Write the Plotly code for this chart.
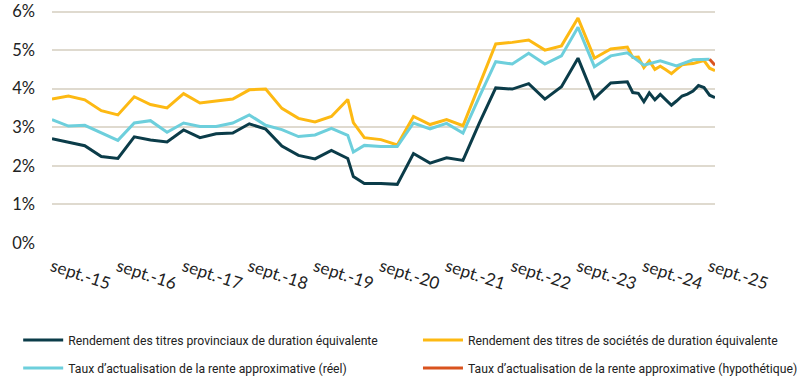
import plotly.graph_objects as go

# ---- data ----
dates_main = [
    "2015-09-01", "2015-12-01", "2016-03-01", "2016-06-01", "2016-09-01", "2016-12-01",
    "2017-03-01", "2017-06-01", "2017-09-01", "2017-12-01", "2018-03-01", "2018-06-01",
    "2018-09-01", "2018-12-01", "2019-03-01", "2019-06-01", "2019-09-01", "2019-12-01",
    "2020-03-01", "2020-04-01", "2020-06-01", "2020-09-01", "2020-12-01", "2021-03-01",
    "2021-06-01", "2021-09-01", "2021-12-01", "2022-03-01", "2022-06-01", "2022-09-01",
    "2022-12-01", "2023-03-01", "2023-06-01", "2023-09-01", "2023-12-01", "2024-03-01",
    "2024-06-01", "2024-07-01", "2024-08-01", "2024-09-01", "2024-10-01", "2024-11-01",
    "2024-12-01", "2025-01-01", "2025-02-01", "2025-03-01", "2025-04-01", "2025-05-01",
    "2025-06-01", "2025-07-01", "2025-08-01", "2025-09-01", "2025-10-01",
]
provincial = [
    2.70, 2.62, 2.52, 2.24, 2.19, 2.75, 2.67, 2.62, 2.93, 2.73, 2.83, 2.85,
    3.09, 2.95, 2.51, 2.27, 2.18, 2.40, 2.19, 1.72, 1.54, 1.54, 1.52, 2.32,
    2.07, 2.21, 2.14, 3.10, 4.02, 3.99, 4.13, 3.73, 4.05, 4.79, 3.75, 4.15,
    4.18, 3.90, 3.88, 3.66, 3.89, 3.71, 3.85, 3.71, 3.57, 3.68, 3.81, 3.86,
    3.94, 4.08, 4.03, 3.83, 3.77,
]
corporate = [
    3.73, 3.81, 3.71, 3.43, 3.32, 3.79, 3.59, 3.50, 3.87, 3.63, 3.68, 3.73,
    3.97, 3.99, 3.49, 3.23, 3.14, 3.28, 3.72, 3.12, 2.73, 2.68, 2.54, 3.28,
    3.07, 3.20, 3.04, 4.08, 5.16, 5.20, 5.26, 5.00, 5.11, 5.83, 4.79, 5.03,
    5.08, 4.81, 4.82, 4.55, 4.72, 4.50, 4.58, 4.49, 4.39, 4.50, 4.62, 4.64,
    4.65, 4.69, 4.73, 4.53, 4.47,
]
dates_annuity = [
    "2015-09-01", "2015-12-01", "2016-03-01", "2016-06-01", "2016-09-01", "2016-12-01",
    "2017-03-01", "2017-06-01", "2017-09-01", "2017-12-01", "2018-03-01", "2018-06-01",
    "2018-09-01", "2018-12-01", "2019-03-01", "2019-06-01", "2019-09-01", "2019-12-01",
    "2020-03-01", "2020-04-01", "2020-06-01", "2020-09-01", "2020-12-01", "2021-03-01",
    "2021-06-01", "2021-09-01", "2021-12-01", "2022-03-01", "2022-06-01", "2022-09-01",
    "2022-12-01", "2023-03-01", "2023-06-01", "2023-09-01", "2023-12-01", "2024-03-01",
    "2024-06-01", "2024-09-01", "2024-12-01", "2025-03-01", "2025-06-01", "2025-09-01",
]
annuity_actual = [
    3.20, 3.03, 3.05, 2.85, 2.66, 3.11, 3.17, 2.87, 3.11, 3.02, 3.02, 3.11,
    3.32, 3.05, 2.94, 2.76, 2.80, 2.97, 2.79, 2.36, 2.53, 2.50, 2.50, 3.11,
    2.96, 3.10, 2.85, 3.78, 4.70, 4.64, 4.92, 4.64, 4.85, 5.59, 4.57, 4.85,
    4.93, 4.61, 4.72, 4.59, 4.75, 4.76,
]
dates_hypo = ["2025-09-01", "2025-10-01"]
annuity_hypo = [4.76, 4.61]

tick_dates = ["2015-09-01", "2016-09-01", "2017-09-01", "2018-09-01", "2019-09-01",
              "2020-09-01", "2021-09-01", "2022-09-01", "2023-09-01", "2024-09-01",
              "2025-09-01"]
tick_labels = ["sept.-15", "sept.-16", "sept.-17", "sept.-18", "sept.-19", "sept.-20",
               "sept.-21", "sept.-22", "sept.-23", "sept.-24", "sept.-25"]
y_ticks = [0, 1, 2, 3, 4, 5, 6]
y_labels = ["0%", "1%", "2%", "3%", "4%", "5%", "6%"]

names = [
    "Rendement des titres provinciaux de duration équivalente",
    "Rendement des titres de sociétés de duration équivalente",
    "Taux d’actualisation de la rente approximative (réel)",
    "Taux d’actualisation de la rente approximative (hypothétique)",
]
colors = ["#0B3C49", "#FDB913", "#6DCFDC", "#D9531E"]

fig = go.Figure()
fig.add_trace(go.Scatter(x=dates_main, y=provincial, name=names[0], mode="lines",
                         legend="legend", legendgroup="a",
                         line=dict(color=colors[0], width=3)))
fig.add_trace(go.Scatter(x=dates_main, y=corporate, name=names[1], mode="lines",
                         legend="legend2", legendgroup="b",
                         line=dict(color=colors[1], width=3)))
fig.add_trace(go.Scatter(x=dates_annuity, y=annuity_actual, name=names[2], mode="lines",
                         legend="legend", legendgroup="c",
                         line=dict(color=colors[2], width=3)))
fig.add_trace(go.Scatter(x=dates_hypo, y=annuity_hypo, name=names[3], mode="lines",
                         legend="legend2", legendgroup="d",
                         line=dict(color=colors[3], width=3)))

legend_font = dict(size=12.2, family="Roboto, sans-serif", color="#222222")
common_leg = dict(orientation="v", xanchor="left", yanchor="top", y=-0.353,
                  font=legend_font, tracegroupgap=9, itemwidth=40,
                  bgcolor="rgba(0,0,0,0)")

fig.update_layout(
    width=802, height=385,
    margin=dict(l=52, r=87, t=9, b=142, autoexpand=False),
    paper_bgcolor="white", plot_bgcolor="white",
    font=dict(family="Lato, Roboto, sans-serif", color="#222222"),
    showlegend=True,
    legend=dict(x=-0.051, **common_leg),
    legend2=dict(x=0.552, **common_leg),
)
fig.update_xaxes(
    type="date", range=["2015-09-01", "2025-10-01"],
    tickvals=tick_dates, ticktext=tick_labels, tickangle=18,
    showgrid=False, showline=False, zeroline=False, ticks="",
    ticklabelstandoff=10,
    tickfont=dict(size=17, family="Lato, sans-serif", color="#222222"),
)
fig.update_yaxes(
    range=[0, 6.065], tickvals=y_ticks, ticktext=y_labels,
    showgrid=True, gridcolor="#DFDACF", gridwidth=2, zeroline=False,
    showline=False, ticks="", ticklabelstandoff=16,
    tickfont=dict(size=16.5, family="Lato, sans-serif", color="#222222"),
)

fig.write_html("out.html", config={"displayModeBar": False},
               post_script="document.body.style.margin='0px';document.body.style.padding='0px';")
